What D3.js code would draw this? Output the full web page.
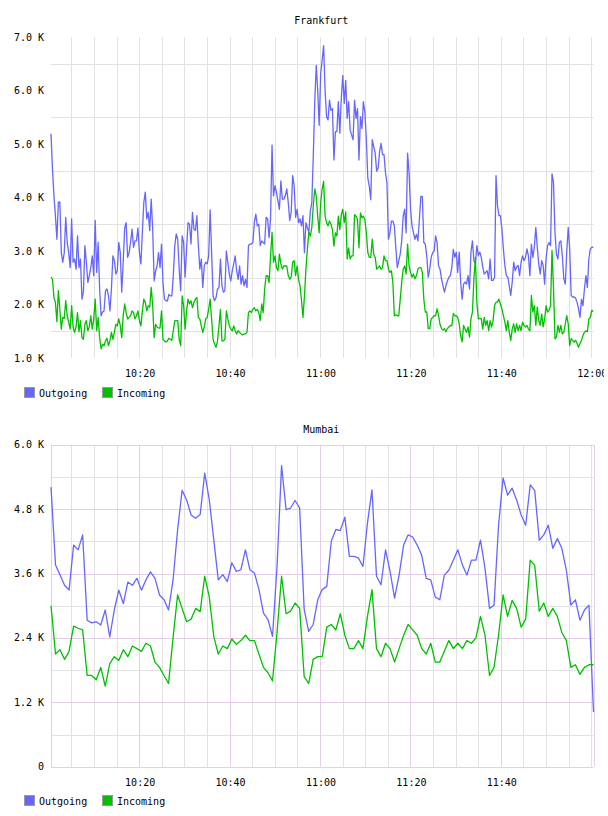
<!DOCTYPE html>
<html>
<head>
<meta charset="utf-8">
<script src="https://cdn.jsdelivr.net/npm/d3@7"></script>
<style>
body { margin: 0; background: #fff; }
text { font-family: "DejaVu Sans Mono", monospace; font-size: 10px; fill: #000; }
</style>
</head>
<body>
<svg id="chart" width="608" height="816"></svg>
<script>
var seriesNames = ["Outgoing", "Incoming"];
var seriesColors = ["#6666ff", "#00c000"];

// values in thousands, one sample every ~20 s
var frankfurtOutgoing = [
  5.19,4.53,4.03,3.66,3.22,3.91,3.92,2.97,2.79,2.97, 3.63,3.16,2.97,2.69,3.60,2.79,2.85,2.66,3.28,2.69,
  2.85,2.10,2.23,3.10,2.79,2.41,2.54,2.69,2.91,2.54, 3.57,2.60,3.16,2.29,1.79,1.86,1.88,2.26,2.29,2.16,
  1.88,2.29,2.91,2.82,2.57,2.63,3.16,2.97,2.23,2.79, 3.43,3.53,2.88,2.97,3.16,3.41,3.07,3.19,3.19,3.43,
  2.97,2.76,3.35,3.91,4.10,3.60,3.72,3.38,3.97,3.41, 2.44,2.63,2.72,2.97,2.69,3.13,2.41,2.10,2.07,2.07,
  2.19,2.16,2.16,2.54,3.10,3.32,3.22,2.66,2.26,3.28,
  3.16,2.51,3.04,3.53,3.50,3.13,3.72,3.41,3.38,3.66, 3.10,2.66,2.85,2.32,2.72,2.79,2.76,2.91,3.77,2.97,
  2.16,2.07,2.13,2.29,2.32,2.85,2.35,2.23,2.26,3.00, 2.79,2.57,2.44,2.63,2.76,2.91,2.63,2.47,2.72,2.38,
  2.54,2.35,2.47,2.32,3.10,3.13,3.13,3.16,3.53,3.69, 3.47,3.50,3.10,3.19,3.16,3.13,3.63,3.60,3.25,3.60,
  4.98,4.03,4.22,4.10,3.94,3.78,4.31,3.97,3.97,4.03, 4.16,3.91,3.57,3.72,4.41,4.22,3.63,3.78,3.53,3.60,
  3.47,3.66,2.97,3.53,3.43,3.35,3.75,3.91,4.78,5.80,
  6.47,6.00,5.35,6.31,6.56,6.84,6.00,5.51,5.45,5.82, 5.63,5.66,4.70,5.23,5.23,5.79,5.20,5.85,6.28,5.76,
  6.19,5.48,5.79,5.26,5.17,5.08,5.82,5.48,5.66,4.70, 5.51,5.29,5.79,5.60,5.08,4.36,4.21,3.96,5.08,4.95,
  4.83,4.49,4.55,4.86,5.01,4.80,4.80,4.46,4.27,3.22, 3.34,3.56,3.56,3.47,3.06,2.69,2.82,2.94,3.19,3.65,
  3.78,3.34,4.83,4.46,3.78,3.47,3.34,3.22,3.31,3.19, 3.59,4.02,4.02,3.16,3.13,2.91,2.51,2.66,2.88,2.97,
  3.00,3.28,3.16,2.72,2.66,2.48,2.35,2.23,2.35,2.44, 2.51,2.54,2.69,3.03,2.88,
  2.98,2.60,2.98,2.42,2.10,2.38,2.42,2.38,2.54,2.29, 2.98,3.19,2.82,2.76,3.10,2.91,2.98,2.88,2.70,2.57,
  2.60,2.63,2.48,2.85,2.45,2.45,2.51,4.41,3.85,3.66, 3.66,3.41,3.04,2.73,2.54,2.51,2.35,2.17,2.42,2.79,
  2.63,2.70,2.73,2.54,2.79,2.91,2.82,2.88,3.04,2.91, 2.54,3.13,2.88,3.07,3.44,3.07,2.76,2.57,2.82,2.73,
  2.38,2.88,3.10,3.16,3.10,4.44,4.28,3.35,2.94,2.85, 3.16,3.19,2.91,2.48,2.38,2.98,3.44,3.04,2.17,2.14,
  2.14,2.12,2.04,1.92,1.76,2.10,1.98,2.29,2.54,2.32, 2.85,3.04,3.07,3.07
];
var frankfurtIncoming = [
  2.51,2.47,2.13,2.04,1.68,2.26,1.91,1.54,1.76,1.74, 2.07,1.79,1.67,1.54,1.98,1.58,1.48,1.58,1.85,1.49,
  1.70,1.38,1.35,1.63,1.70,1.51,1.58,1.79,1.54,1.73, 2.10,1.51,1.76,1.38,1.17,1.26,1.23,1.32,1.37,1.23,
  1.32,1.48,1.35,1.48,1.63,1.60,1.73,1.61,1.38,1.79, 2.01,1.85,1.73,1.76,1.79,1.88,1.85,1.73,1.79,1.88,
  1.70,1.60,1.88,2.10,2.04,1.88,1.98,1.95,2.32,1.98, 1.38,1.63,1.58,1.56,1.56,1.88,1.35,1.32,1.30,1.32,
  1.37,1.35,1.33,1.51,1.70,1.70,1.70,1.35,1.23,2.16,
  1.98,1.54,1.88,2.10,2.01,2.07,1.94,2.04,2.10,2.13, 1.76,1.73,1.60,1.48,1.58,1.73,1.76,1.91,2.10,1.73,
  1.35,1.26,1.20,1.32,1.60,1.91,1.32,1.32,1.35,1.88, 1.73,1.60,1.54,1.51,1.60,1.51,1.45,1.51,1.48,1.45,
  1.43,1.45,1.45,1.48,1.85,1.88,1.85,1.91,1.94,1.88, 1.91,1.85,1.70,2.01,1.85,2.29,2.54,2.54,2.41,2.91,
  3.35,2.79,2.91,2.69,2.63,2.94,2.76,2.66,2.72,2.72, 2.72,2.54,2.47,2.51,2.79,2.82,2.54,2.72,2.47,2.35,
  2.07,1.76,2.16,2.66,3.04,3.35,3.28,3.44,3.85,4.16,
  4.02,3.65,3.34,3.90,4.15,4.30,3.65,3.53,3.47,3.56, 3.50,3.40,3.09,3.34,3.28,3.65,3.40,3.68,3.78,3.53,
  3.73,2.85,3.06,2.85,2.91,2.91,3.68,3.65,3.59,3.06, 3.71,3.62,3.65,3.59,3.34,2.97,2.88,2.88,3.22,2.94,
  2.88,2.66,2.69,2.72,2.66,2.69,2.91,2.82,2.82,2.66, 2.60,2.63,2.41,1.79,1.81,1.79,1.79,2.10,2.41,2.66,
  2.72,2.57,3.13,2.72,2.60,2.51,2.57,2.48,2.54,2.66, 2.69,2.69,2.60,2.10,1.86,1.86,1.55,1.55,1.73,1.76,
  1.79,1.79,1.92,1.79,1.63,1.55,1.52,1.55,1.49,1.55, 1.58,1.61,1.60,1.83,1.79,
  1.79,1.76,1.64,1.42,1.30,1.61,1.54,1.48,1.58,1.39, 1.73,1.86,2.48,2.88,2.04,1.73,1.74,1.73,1.54,1.76,
  1.61,1.70,1.51,1.70,1.58,1.70,1.98,2.04,2.05,2.10, 2.01,1.92,1.79,1.67,1.51,1.70,1.48,1.33,1.54,1.64,
  1.48,1.64,1.51,1.61,1.51,1.67,1.61,1.58,1.61,1.54, 1.51,2.17,1.86,1.98,1.61,1.95,1.70,1.61,1.82,1.58,
  1.73,1.98,1.86,1.89,1.98,3.01,2.32,1.36,1.39,1.61, 1.48,1.61,1.45,1.48,1.64,1.79,1.64,1.23,1.36,1.33,
  1.30,1.33,1.27,1.20,1.27,1.33,1.42,1.48,1.51,1.49, 1.73,1.76,1.89,1.87
];

// values in thousands, one sample per minute
var mumbaiOutgoing = [
  5.21,3.76,3.57,3.38,3.29,4.13,4.04,4.32,2.73,2.68, 2.70,2.64,2.92,2.42,2.92,3.29,3.04,3.44,3.38,3.51,
  3.29,3.48,3.63,3.51,3.20,3.11,2.92,3.48,4.41,5.15, 4.97,4.69,4.63,4.70,5.47,4.98,4.23,3.48,3.58,3.45,
  3.80,3.64,3.67,4.04,3.67,3.61,3.30,2.86,2.74,2.43, 3.73,5.61,4.79,4.82,4.96,4.82,2.93,2.52,2.65,3.11,
  3.30,3.36,4.20,4.42,4.40,4.65,3.92,3.92,3.89,3.73, 4.54,5.16,3.55,3.39,4.04,3.64,3.14,3.57,4.13,4.32,
  4.28,4.13,3.94,3.51,3.48,3.16,3.11,3.57,3.66,3.85, 4.04,3.76,3.57,3.85,3.85,4.22,3.70,2.95,3.01,4.50,
  5.38,5.06,5.19,4.97,4.69,4.50,5.25,5.15,4.22,4.32, 4.50,4.07,4.25,4.07,3.66,3.01,3.11,2.73,2.92,3.01,
  1.02
];
var mumbaiIncoming = [
  3.00,2.10,2.18,2.00,2.15,2.62,2.58,2.55,1.70,1.70, 1.62,1.85,1.50,1.92,2.05,1.98,2.18,2.05,2.25,2.20,
  2.15,2.30,2.25,1.95,1.85,1.70,1.55,2.40,3.20,2.95, 2.70,2.75,2.95,2.89,3.55,3.17,2.43,2.10,2.25,2.20,
  2.38,2.28,2.35,2.45,2.35,2.35,2.10,1.85,1.75,1.60, 2.50,3.55,2.85,2.90,3.05,2.95,1.68,1.55,2.00,2.05,
  2.05,2.60,2.65,2.55,2.85,2.45,2.20,2.20,2.35,2.20, 2.80,3.30,2.20,2.05,2.30,2.20,1.95,2.20,2.45,2.65,
  2.55,2.45,2.20,2.10,2.30,1.95,1.95,2.15,2.35,2.20, 2.30,2.20,2.35,2.30,2.40,2.80,2.45,1.70,1.85,2.45,
  3.20,2.80,3.10,2.95,2.60,2.75,3.85,3.75,2.90,3.05, 2.80,2.95,2.80,2.50,2.35,1.85,1.90,1.72,1.85,1.90,
  1.90
];

var frankfurtTicksY = [1, 2, 3, 4, 5, 6, 7];
var frankfurtGridY = [1.5, 2.5, 3.5, 4.5, 5.5, 6.5];
var mumbaiTicksY = [0, 1.2, 2.4, 3.6, 4.8, 6.0];
var mumbaiGridY = [0.6, 1.8, 3.0, 4.2, 5.4];
var frankfurtTicksX = ["10:20", "10:40", "11:00", "11:20", "11:40", "12:00"];
var mumbaiTicksX = ["10:20", "10:40", "11:00", "11:20", "11:40"];

var parseTime = d3.timeParse("%H:%M:%S");
var parseTick = d3.timeParse("%H:%M");
var startTime = parseTime("10:00:30"), endTime = parseTime("12:00:30");
var gridColor = "#e2e2e2", majorColor = "#e6cfe6";

var svg = d3.select("#chart");

// the reference cuts the last time label at the right edge
svg.append("clipPath").attr("id", "labelClip")
  .append("rect").attr("x", 0).attr("y", 0).attr("width", 604).attr("height", 816);

makeChart({
  title: "Frankfurt", titleY: 24, top: 37, bottom: 358,
  domainY: [1, 7], ticksY: frankfurtTicksY, gridY: frankfurtGridY,
  ticksX: frankfurtTicksX, framed: false, legendY: 387.5,
  first: "10:00:30", last: "12:00:27",
  series: [frankfurtOutgoing, frankfurtIncoming]
});
makeChart({
  title: "Mumbai", titleY: 433, top: 444.7, bottom: 766.7,
  domainY: [0, 6], ticksY: mumbaiTicksY, gridY: mumbaiGridY,
  ticksX: mumbaiTicksX, framed: true, legendY: 795.5,
  first: "10:00:30", last: "12:00:30",
  series: [mumbaiOutgoing, mumbaiIncoming]
});

function makeChart(cfg) {
  /*  Draws one traffic panel: grid, two lines, axis labels and legend.
      cfg.framed   true gives the purple major grid + frame (Mumbai style)
  */
  var left = 51, right = 593.5;
  var x = d3.scaleTime().domain([startTime, endTime]).range([left, right]);
  var y = d3.scaleLinear().domain(cfg.domainY).range([cfg.bottom, cfg.top]);
  var g = svg.append("g");

  var minorX = x.ticks(d3.timeMinute.every(5));
  var majorX = cfg.ticksX.map(function(t) { return parseTick(t); });
  var isMajor = function(d) {
    return cfg.framed && majorX.some(function(m) { return +m === +d; });
  };

  // horizontal minor grid
  g.selectAll(".gy").data(cfg.gridY).enter().append("line")
    .attr("x1", left).attr("x2", right)
    .attr("y1", function(d) { return Math.round(y(d)) + 0.5; })
    .attr("y2", function(d) { return Math.round(y(d)) + 0.5; })
    .attr("stroke", gridColor);

  // vertical grid every 5 minutes
  g.selectAll(".gx").data(minorX).enter().append("line")
    .attr("x1", function(d) { return Math.round(x(d)) + 0.5; })
    .attr("x2", function(d) { return Math.round(x(d)) + 0.5; })
    .attr("y1", cfg.top).attr("y2", cfg.bottom)
    .attr("stroke", function(d) { return isMajor(d) ? majorColor : gridColor; });

  if (cfg.framed) {
    g.selectAll(".my").data(cfg.ticksY).enter().append("line")
      .attr("x1", left).attr("x2", right)
      .attr("y1", function(d) { return Math.round(y(d)) + 0.5; })
      .attr("y2", function(d) { return Math.round(y(d)) + 0.5; })
      .attr("stroke", majorColor);
    g.selectAll(".mx").data([left, right]).enter().append("line")
      .attr("x1", function(d) { return Math.round(d) + 0.5; })
      .attr("x2", function(d) { return Math.round(d) + 0.5; })
      .attr("y1", cfg.top).attr("y2", cfg.bottom)
      .attr("stroke", majorColor);
  }

  // the two series
  var t0 = parseTime(cfg.first), t1 = parseTime(cfg.last);
  cfg.series.forEach(function(values, k) {
    var step = (t1 - t0) / (values.length - 1);
    var line = d3.line()
      .x(function(d, i) { return x(new Date(+t0 + i * step)); })
      .y(function(d) { return y(d); });
    g.append("path")
      .datum(values)
      .attr("d", line)
      .attr("fill", "none")
      .attr("stroke", seriesColors[k])
      .attr("stroke-width", 1.3)
      .attr("stroke-linejoin", "round");
  });

  // y labels
  g.selectAll(".ly").data(cfg.ticksY).enter().append("text")
    .attr("x", 44).attr("y", function(d) { return y(d); })
    .attr("dy", "0.35em")
    .attr("text-anchor", "end")
    .text(function(d) { return d === 0 ? "0" : d.toFixed(1) + " K"; });

  // x labels
  g.append("g").attr("clip-path", "url(#labelClip)")
    .selectAll(".lx").data(majorX).enter().append("text")
    .attr("x", function(d) { return x(d) + 1; })
    .attr("y", cfg.bottom + 19)
    .attr("text-anchor", "middle")
    .text(d3.timeFormat("%H:%M"));

  g.append("text")
    .attr("x", (left + right) / 2 - 1).attr("y", cfg.titleY)
    .attr("text-anchor", "middle")
    .text(cfg.title);

  // legend
  var legendX = [24.5, 102.5];
  seriesNames.forEach(function(name, k) {
    g.append("rect")
      .attr("x", legendX[k]).attr("y", cfg.legendY)
      .attr("width", 10).attr("height", 10)
      .attr("fill", seriesColors[k])
      .attr("stroke", "#999");
    g.append("text")
      .attr("x", legendX[k] + 14.5).attr("y", cfg.legendY + 9)
      .text(name);
  });
}
</script>
</body>
</html>
